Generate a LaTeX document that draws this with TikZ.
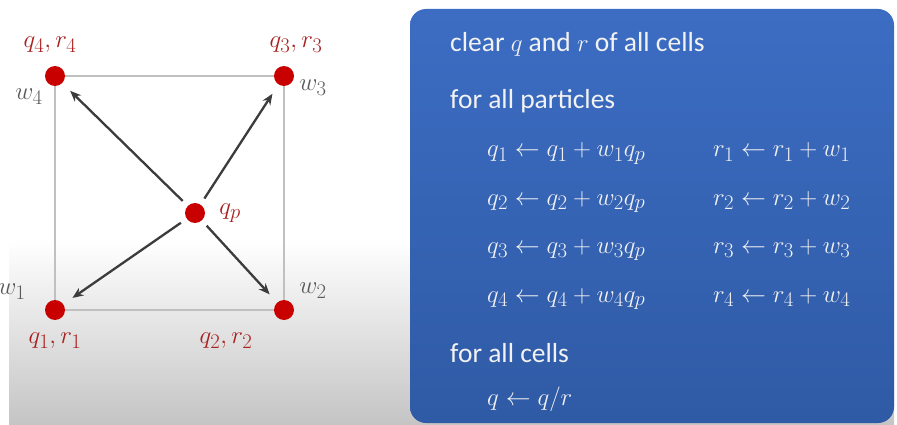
\documentclass[tikz,border=0pt]{standalone}
\usepackage{fontspec}
\setmainfont{Carlito}
\usetikzlibrary{arrows.meta, backgrounds}
\definecolor{dotred}{HTML}{C80000}
\definecolor{lblred}{HTML}{A82020}
\definecolor{wgray}{HTML}{5A5A5A}
\definecolor{arrgray}{HTML}{3C3C3C}
\definecolor{sqgray}{HTML}{C0C0C0}
\definecolor{boxtop}{HTML}{3C6DC3}
\definecolor{boxbot}{HTML}{2F5AA5}
\tikzset{
  dot/.style={circle, fill=dotred, minimum size=20pt, inner sep=0pt},
  qlbl/.style={text=lblred, inner sep=0pt, font=\fontsize{28}{32}\selectfont},
  wlbl/.style={text=wgray, inner sep=0pt, font=\fontsize{28}{32}\selectfont},
  arr/.style={-{Stealth[length=11pt, width=9pt]}, line width=2.3pt, arrgray,
              shorten <=7pt, shorten >=11pt},
  txt/.style={text=white!95!black, anchor=base west, inner sep=0pt,
              font=\fontsize{27.5}{32}\selectfont},
  mtxt/.style={text=white!95!black, anchor=base west, inner sep=0pt,
               font=\fontsize{28.5}{32}\selectfont},
}

\begin{document}
\begin{tikzpicture}[x=1pt, y=-1pt]
  \useasboundingbox (0,0) rectangle (897,425);

  % cell corners and particle
  \node[dot] (c4) at (55,76) {};
  \node[dot] (c3) at (284,76) {};
  \node[dot] (c1) at (55,310) {};
  \node[dot] (c2) at (284,310) {};
  \node[dot] (qp) at (195,213) {};

  \begin{pgfonlayer}{background}
    \shade[top color=white, bottom color=black!23] (9,240) rectangle (894,425);
    \draw[sqgray, line width=2pt] (c1.center) -- (c2.center) -- (c3.center) -- (c4.center) -- cycle;
  \end{pgfonlayer}

  \node[qlbl] (l4) at (50,45) {$q_4, r_4$};
  \node[qlbl] (l3) at (296,45) {$q_3, r_3$};
  \node[qlbl] (l1) at (55,341) {$q_1, r_1$};
  \node[qlbl] (l2) at (226,341) {$q_2, r_2$};
  \node[qlbl] (lp) at (230,213) {$q_p$};

  \node[wlbl] (w4) at (29,97) {$w_4$};
  \node[wlbl] (w3) at (313,88) {$w_3$};
  \node[wlbl] (w1) at (12,292) {$w_1$};
  \node[wlbl] (w2) at (313,291) {$w_2$};

  \draw[arr] (qp) -- (c4);
  \draw[arr] (qp) -- (c3);
  \draw[arr] (qp) -- (c1);
  \draw[arr] (qp) -- (c2);

  % algorithm panel
  \shade[top color=boxtop, bottom color=boxbot, rounded corners=16pt] (410,9) rectangle (894,423);

  \node[txt] (t1) at (450,52) {clear $q$ and $r$ of all cells};
  \node[txt] (t2) at (450,109) {for all particles};
  \foreach \i/\yy in {1/157, 2/205, 3/253, 4/302} {
    \node[mtxt] (qa\i) at (487,\yy) {$q_\i \leftarrow q_\i + w_\i q_p$};
    \node[mtxt] (ra\i) at (713,\yy) {$r_\i \leftarrow r_\i + w_\i$};
  }
  \node[txt] (t3) at (450,362) {for all cells};
  \node[mtxt] (qr) at (487,405) {$q \leftarrow q/r$};
\end{tikzpicture}
\end{document}
